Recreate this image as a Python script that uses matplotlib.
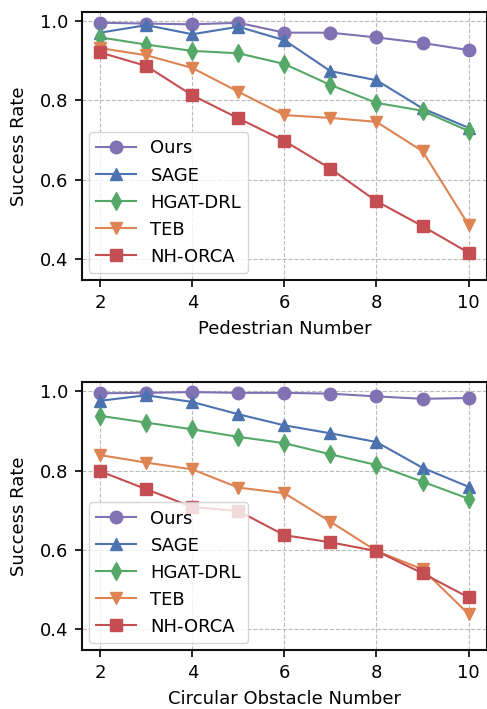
import matplotlib
matplotlib.use('Agg')
import matplotlib.pyplot as plt

x = [2, 3, 4, 5, 6, 7, 8, 9, 10]
methods = ['Ours', 'SAGE', 'HGAT-DRL', 'TEB', 'NH-ORCA']
colors = ['#8172B3', '#4C72B0', '#55A868', '#DD8452', '#C44E52']
markers = ['o', '^', 'd', 'v', 's']

# pedestrian scenario
ped_ours = [0.996, 0.994, 0.992, 0.996, 0.971, 0.971, 0.959, 0.945, 0.927]
ped_sage = [0.971, 0.990, 0.967, 0.986, 0.952, 0.874, 0.851, 0.780, 0.731]
ped_hgat = [0.959, 0.941, 0.925, 0.919, 0.892, 0.839, 0.794, 0.774, 0.723]
ped_teb = [0.932, 0.914, 0.882, 0.822, 0.763, 0.756, 0.746, 0.672, 0.486]
ped_orca = [0.921, 0.887, 0.813, 0.755, 0.698, 0.628, 0.546, 0.483, 0.416]

# circular obstacle scenario
obs_ours = [0.995, 0.996, 0.998, 0.996, 0.996, 0.994, 0.987, 0.981, 0.983]
obs_sage = [0.976, 0.990, 0.973, 0.942, 0.914, 0.894, 0.872, 0.807, 0.759]
obs_hgat = [0.938, 0.921, 0.904, 0.885, 0.869, 0.841, 0.814, 0.772, 0.729]
obs_teb = [0.839, 0.820, 0.803, 0.757, 0.743, 0.671, 0.597, 0.551, 0.438]
obs_orca = [0.798, 0.753, 0.708, 0.698, 0.637, 0.619, 0.597, 0.541, 0.480]

panels = [
    ('Pedestrian Number', [ped_ours, ped_sage, ped_hgat, ped_teb, ped_orca]),
    ('Circular Obstacle Number', [obs_ours, obs_sage, obs_hgat, obs_teb, obs_orca]),
]

fig = plt.figure(figsize=(4.87, 7.09), dpi=100)
boxes = [[0.168, 0.605, 0.832, 0.378], [0.168, 0.083, 0.832, 0.378]]

for box, (xlabel, series) in zip(boxes, panels):
    ax = fig.add_axes(box)
    for name, vals, c, m in zip(methods, series, colors, markers):
        ax.plot(x, vals, color=c, marker=m, markersize=9, linewidth=1.5, label=name)
    ax.set_xlim(1.6, 10.4)
    ax.set_ylim(0.347, 1.023)
    ax.set_xticks([2, 4, 6, 8, 10])
    ax.set_yticks([0.4, 0.6, 0.8, 1.0])
    ax.grid(True, linestyle='--', color='#bbbbbb', linewidth=0.8)
    ax.tick_params(labelsize=13, length=5, width=1.2, pad=5)
    for s in ax.spines.values():
        s.set_linewidth(1.5)
        s.set_color('#111111')
    ax.set_xlabel(xlabel, fontsize=13, labelpad=6)
    ax.set_ylabel('Success Rate', fontsize=13, labelpad=8)
    ax.legend(loc='lower left', fontsize=13, framealpha=0.8, borderaxespad=0.4,
              handlelength=2.2, labelspacing=0.5)

fig.savefig('out.png', dpi=100)
